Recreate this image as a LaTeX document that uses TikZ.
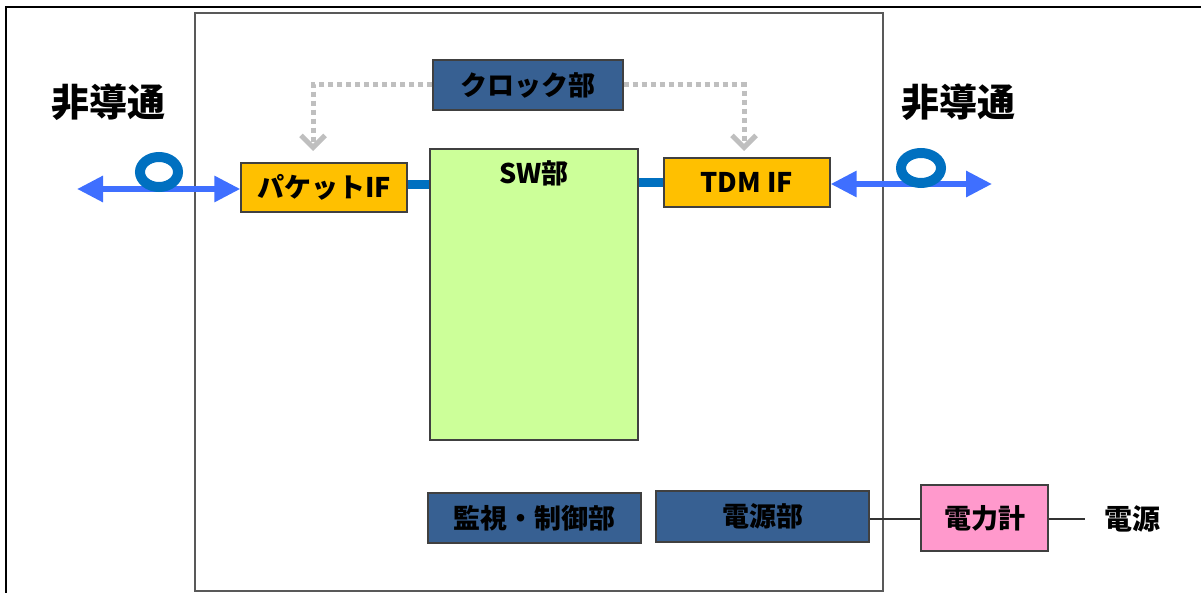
\documentclass[tikz,border=0pt]{standalone}
\usepackage{fontspec}
\setmainfont{Noto Sans CJK JP}
\usetikzlibrary{arrows.meta}
\definecolor{navy}{HTML}{376092}
\definecolor{ifor}{HTML}{FFC000}
\definecolor{swg}{HTML}{CCFF99}
\definecolor{pk}{HTML}{FF99CC}
\definecolor{lnk}{HTML}{0070C0}
\definecolor{arr}{HTML}{3F6FFF}
\definecolor{dsh}{HTML}{BFBFBF}
\tikzset{
  box/.style={draw=black!75, line width=1.3pt, inner sep=0pt, font=\fontsize{27}{30}\selectfont\bfseries},
  bluebox/.style={box, fill=navy},
  ifbox/.style={box, fill=ifor},
  sigarrow/.style={draw=arr, line width=6pt, {Triangle[length=26pt,width=25pt]}-{Triangle[length=26pt,width=25pt]}},
  ring/.style={draw=lnk, line width=10pt},
  link/.style={draw=lnk, line width=9pt},
  clk/.style={draw=dsh, line width=5pt, dash pattern=on 5pt off 4pt, -{Straight Barb[length=12pt,width=24pt]}},
  wire/.style={draw=black!80, line width=1.5pt},
  bigtext/.style={font=\fontsize{38}{42}\selectfont\bfseries},
  plain/.style={font=\fontsize{28}{30}\selectfont\bfseries}
}
\begin{document}
\begin{tikzpicture}[x=1pt,y=-1pt]
\useasboundingbox (0,0) rectangle (1201,593);
% frames
\draw[black, line width=2.5pt] (6,1000) -- (6,7) -- (1300,7);
\draw[black!65, line width=2pt] (195,13) rectangle (883,591);
% boxes
\node[bluebox, minimum width=190pt, minimum height=50pt] (clock) at (528,85) {クロック部};
\node[ifbox, minimum width=166pt, minimum height=49pt] (pkt) at (324,187.5) {パケットIF};
\node[box, fill=swg, minimum width=208pt, minimum height=291pt] (sw) at (534,294.5) {};
\node[box, draw=none, fill=none] (swlabel) at ([yshift=-25pt]sw.north) {SW部};
\node[ifbox, minimum width=166pt, minimum height=49pt] (tdm) at (747,182.5) {TDM IF};
\node[bluebox, minimum width=213pt, minimum height=50pt] (mon) at (534.5,518) {監視・制御部};
\node[bluebox, minimum width=213pt, minimum height=51pt] (pwr) at (762.5,516.5) {電源部};
\node[box, fill=pk, minimum width=127pt, minimum height=66pt] (meter) at (984.5,518) {電力計};
\node[plain] (src) at (1132,519) {電源};
\node[bigtext] (ncl) at (108,102) {非導通};
\node[bigtext] (ncr) at (958,102) {非導通};
% links to SW
\draw[link] (pkt.east |- 0,185) -- (sw.west |- 0,185);
\draw[link] (sw.east |- 0,183) -- (tdm.west |- 0,183);
% clock dashed
\coordinate (cl1) at (313,85);
\coordinate (cl2) at (313,151);
\coordinate (cr1) at (744,85);
\coordinate (cr2) at (744,151);
\draw[clk] (clock.west) -- (cl1) -- (cl2);
\draw[clk] (clock.east) -- (cr1) -- (cr2);
% optical arrows
\coordinate (la) at (77,189);
\coordinate (ra) at (992,184);
\draw[sigarrow] (la) -- (pkt.west |- 0,189);
\draw[sigarrow] (tdm.east |- 0,184) -- (ra);
\draw[ring] (159,172) ellipse [x radius=19pt, y radius=15pt];
\draw[ring] (921,168) ellipse [x radius=20pt, y radius=15pt];
% power wires
\coordinate (srcend) at (1085,519);
\draw[wire] (pwr.east |- 0,519) -- (meter.west |- 0,519);
\draw[wire] (meter.east |- 0,519) -- (srcend);
\end{tikzpicture}
\end{document}
